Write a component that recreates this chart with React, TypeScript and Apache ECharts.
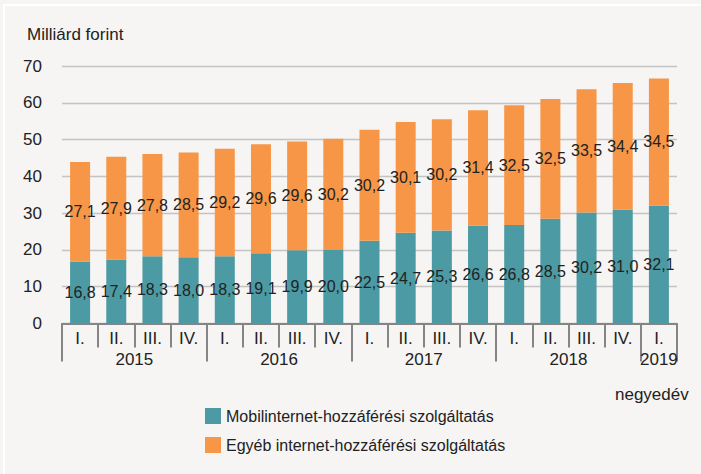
import React, { useEffect, useRef } from "react";
import * as echarts from "echarts";

const quarters = ["I.", "II.", "III.", "IV.", "I.", "II.", "III.", "IV.", "I.", "II.", "III.", "IV.", "I.", "II.", "III.", "IV.", "I."];
const years = ["2015", "2016", "2017", "2018", "2019"];
const mobile = [16.8, 17.4, 18.3, 18.0, 18.3, 19.1, 19.9, 20.0, 22.5, 24.7, 25.3, 26.6, 26.8, 28.5, 30.2, 31.0, 32.1];
const other = [27.1, 27.9, 27.8, 28.5, 29.2, 29.6, 29.6, 30.2, 30.2, 30.1, 30.2, 31.4, 32.5, 32.5, 33.5, 34.4, 34.5];
const seriesNames = ["Mobilinternet-hozzáférési szolgáltatás", "Egyéb internet-hozzáférési szolgáltatás"];
const yTicks = [0, 10, 20, 30, 40, 50, 60, 70];

const FONT = "'Liberation Sans', Arial, sans-serif";
const TXT = "#222222";

export default function App() {
  const ref = useRef<HTMLDivElement>(null);
  useEffect(() => {
    document.body.style.margin = "0";
    const chart = echarts.init(ref.current!, null, { renderer: "svg" });
    const yearData = quarters.map((q, i) => {
      const yi = Math.floor(i / 4);
      if (i % 4 === 1) return years[yi];
      if (i === 16) return years[4] + "|last";
      return "";
    });
    const fmt = (v: number) => v.toFixed(1).replace(".", ",");
    chart.setOption({
      animation: false,
      backgroundColor: "transparent",
      textStyle: { fontFamily: FONT },
      title: [
        { text: "Milliárd forint", left: 22, top: 21, textStyle: { fontSize: 17, fontWeight: "normal", color: TXT, fontFamily: FONT } },
        { text: "negyedév", left: 610, top: 381, textStyle: { fontSize: 17, fontWeight: "normal", color: TXT, fontFamily: FONT } },
      ],
      legend: {
        orient: "vertical",
        left: 200,
        top: 403,
        icon: "rect",
        itemWidth: 16,
        itemHeight: 16,
        itemGap: 13,
        textStyle: { fontSize: 16, color: TXT, fontFamily: FONT },
        data: seriesNames,
      },
      grid: { left: 62, right: 24, top: 66, bottom: 150.5, containLabel: false },
      xAxis: [
        {
          type: "category",
          position: "bottom",
          data: quarters,
          axisLine: { show: true, lineStyle: { color: "#858585", width: 2 } },
          axisTick: { show: true, interval: 0, length: 24, lineStyle: { color: "#858585", width: 2 } },
          axisLabel: { interval: 0, margin: 6, fontSize: 17, color: TXT, fontFamily: FONT },
        },
        {
          type: "category",
          position: "bottom",
          offset: 0,
          data: yearData,
          axisLine: { show: false },
          axisTick: {
            show: true,
            interval: (index: number) => index % 4 === 0,
            length: 38,
            lineStyle: { color: "#858585", width: 2 },
          },
          axisLabel: {
            interval: 0,
            margin: 27,
            hideOverlap: false,
            fontSize: 17,
            color: TXT,
            fontFamily: FONT,
            formatter: (v: string) => {
              if (!v) return "";
              if (v.endsWith("|last")) return "{b|" + v.replace("|last", "") + "}";
              return "{a|" + v + "}";
            },
            rich: {
              a: { fontSize: 17, color: TXT, fontFamily: FONT, padding: [0, 0, 0, 36.2] },
              b: { fontSize: 17, color: TXT, fontFamily: FONT },
            },
          },
        },
      ],
      yAxis: {
        type: "value",
        min: yTicks[0],
        max: yTicks[yTicks.length - 1],
        interval: 10,
        axisLine: { show: false },
        axisTick: { show: false },
        axisLabel: { margin: 20, fontSize: 17, color: TXT, fontFamily: FONT },
        splitLine: { show: true, lineStyle: { color: "#c4c4c4", width: 1.3 } },
      },
      series: [
        {
          name: seriesNames[0],
          type: "bar",
          stack: "total",
          data: mobile,
          barWidth: 20,
          itemStyle: { color: "#4c9aa4" },
          label: { show: true, position: "inside", fontSize: 16, color: TXT, fontFamily: FONT, formatter: (p: any) => fmt(p.value) },
        },
        {
          name: seriesNames[1],
          type: "bar",
          stack: "total",
          data: other,
          barWidth: 20,
          itemStyle: { color: "#f79646" },
          label: { show: true, position: "inside", fontSize: 16, color: TXT, fontFamily: FONT, formatter: (p: any) => fmt(p.value) },
        },
      ],
    });
    return () => chart.dispose();
  }, []);
  return (
    <div style={{ position: "absolute", left: 0, top: 0, width: 701, height: 474, background: "#f6f5f3", overflow: "hidden" }}>
      <div style={{ position: "absolute", left: 3, top: 4, width: 720, height: 500, borderLeft: "2px solid #ffffff", borderTop: "2px solid #ffffff", boxSizing: "border-box" }} />
      <div ref={ref} style={{ position: "absolute", left: 0, top: 0, width: 701, height: 474 }} />
    </div>
  );
}
